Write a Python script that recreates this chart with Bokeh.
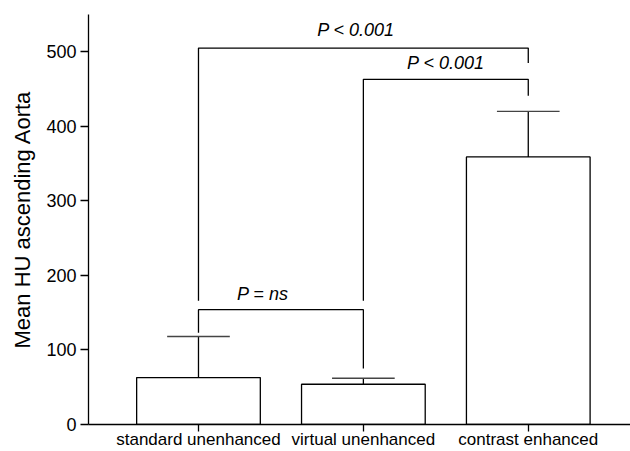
from bokeh.plotting import figure
from bokeh.models import FixedTicker, ColumnDataSource, Range1d
from bokeh.core.properties import value
from bokeh.embed import file_html
from bokeh.resources import INLINE

categories = ["standard unenhanced", "virtual unenhanced", "contrast enhanced"]
means = [63, 54, 359]
sd_upper = [118, 62, 420]

# significance brackets: (left index, right index, bracket height, left leg bottom, right leg bottom, label)
br_left = [1, 2, 1]
br_right = [3, 3, 2]
br_height = [505, 463, 154]
br_left_bottom = [166, 166, 123]
br_right_bottom = [485, 441, 75]
br_labels = ["P < 0.001", "P < 0.001", "P = ns"]
br_label_shift = [-0.045, 0.0, -0.11]
br_label_gap = [11, 8, 7]

y_ticks = [0, 100, 200, 300, 400, 500]

FONT = "Liberation Sans"

p = figure(width=630, height=451, output_backend="svg", toolbar_location=None,
           x_range=Range1d(0.333, 3.62), y_range=Range1d(0, 550),
           min_border_left=88, min_border_right=0, min_border_top=14, min_border_bottom=27)
p.outline_line_color = None
p.grid.visible = False
p.background_fill_color = "white"

xs = [i + 1 for i in range(len(categories))]
src = ColumnDataSource(dict(x=xs, top=means, up=sd_upper))
p.vbar(x="x", top="top", bottom=0, width=0.75, source=src,
       fill_color="white", line_color="black", line_width=1.3)
# one-sided error bars
p.segment(x0="x", y0="top", x1="x", y1="up", source=src, line_color="black", line_width=1.3)
p.segment(x0=[x - 0.19 for x in xs], y0=sd_upper, x1=[x + 0.19 for x in xs], y1=sd_upper,
          line_color="#444444", line_width=1.4)

# brackets
bx, by = [], []
for l, r, h, lb, rb in zip(br_left, br_right, br_height, br_left_bottom, br_right_bottom):
    bx.append([l, l, r, r])
    by.append([lb, h, h, rb])
p.multi_line(bx, by, line_color="black", line_width=1.3)
p.text(x=[(l + r) / 2 + s for l, r, s in zip(br_left, br_right, br_label_shift)],
       y=[h + g for h, g in zip(br_height, br_label_gap)],
       text=br_labels, text_font=value(FONT), text_font_size="18px", text_font_style="italic",
       text_align="center", text_baseline="bottom", text_color="black")

# axes
p.xaxis.ticker = FixedTicker(ticks=xs)
p.xaxis.major_label_overrides = {x: c for x, c in zip(xs, categories)}
p.xaxis.major_label_text_font = FONT
p.xaxis.major_label_text_font_size = "17px"
p.xaxis.major_label_text_color = "black"
p.xaxis.major_label_standoff = -2
p.xaxis.major_tick_out = 7
p.xaxis.major_tick_in = 0
p.xaxis.minor_tick_line_color = None
p.xaxis.axis_line_width = 1.3
p.xaxis.major_tick_line_width = 1.3

p.yaxis.ticker = FixedTicker(ticks=y_ticks)
p.yaxis.major_label_text_font = FONT
p.yaxis.major_label_text_font_size = "18px"
p.yaxis.major_label_text_color = "black"
p.yaxis.major_label_standoff = 4
p.yaxis.major_tick_out = 8
p.yaxis.major_tick_in = 0
p.yaxis.minor_tick_line_color = None
p.yaxis.axis_line_width = 1.3
p.yaxis.major_tick_line_width = 1.3
p.yaxis.axis_label = "Mean HU ascending Aorta"
p.yaxis.axis_label_text_font = FONT
p.yaxis.axis_label_text_font_size = "22px"
p.yaxis.axis_label_text_font_style = "normal"
p.yaxis.axis_label_text_color = "black"
p.yaxis.axis_label_standoff = 8

open("out.html", "w").write(file_html(p, INLINE))
